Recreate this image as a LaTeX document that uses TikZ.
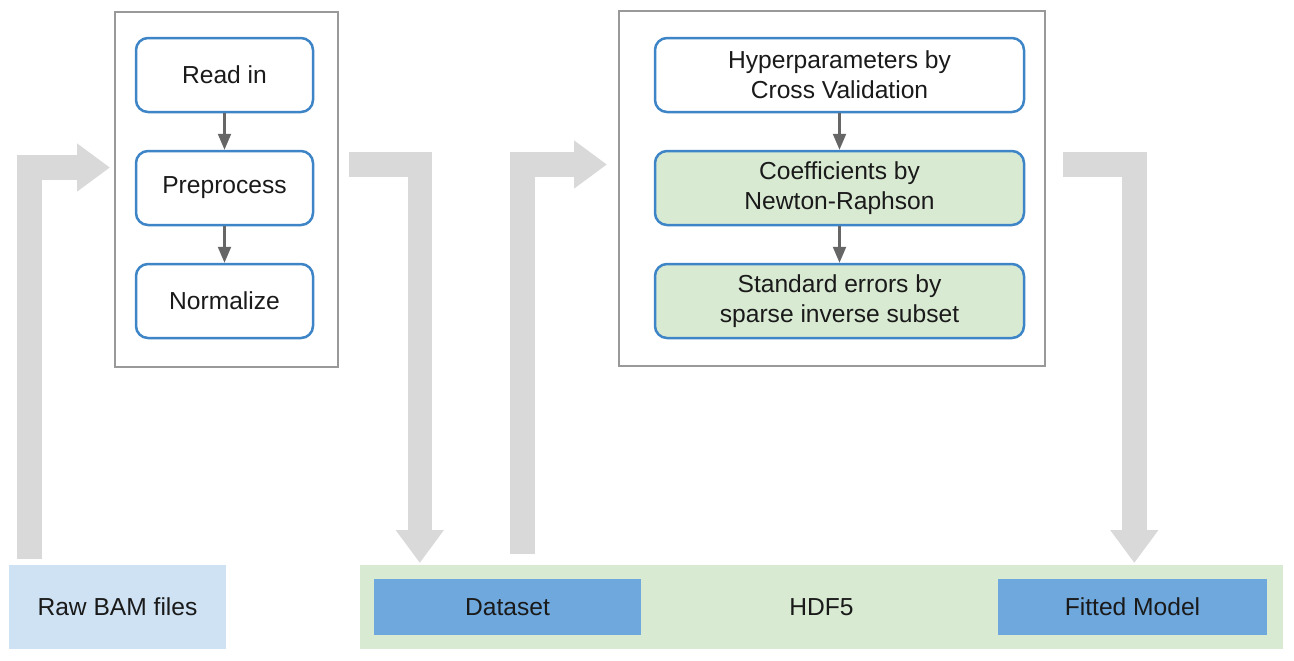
\documentclass[tikz,border=0pt]{standalone}
\usepackage{fontspec}
\setmainfont{Liberation Sans}
\usetikzlibrary{arrows.meta}
\definecolor{boxblue}{HTML}{3D85C6}
\definecolor{framegray}{HTML}{999999}
\definecolor{arrgray}{HTML}{666666}
\definecolor{biggray}{HTML}{D9D9D9}
\definecolor{lightgreen}{HTML}{D9EAD3}
\definecolor{lightblue}{HTML}{CFE2F3}
\definecolor{midblue}{HTML}{6FA8DC}
\definecolor{txt}{HTML}{1A1A1A}
\tikzset{
  every node/.style={font=\fontsize{12.3pt}{15pt}\selectfont, text=txt},
  stepbox/.style={draw=boxblue, line width=1.25pt, rounded corners=6pt, fill=white,
    minimum height=37pt, align=center, inner sep=0pt},
  greenbox/.style={stepbox, fill=lightgreen},
  frame/.style={draw=framegray, line width=1pt},
  flat/.style={draw=none, inner sep=0pt, align=center},
  smallarrow/.style={draw=arrgray, line width=1.1pt, -{Triangle[length=8pt,width=6.5pt]}},
  bigarrow/.style={draw=biggray, line width=12.25pt, line join=miter,
    -{Triangle[length=16.5pt,width=23pt]}},
}
\begin{document}
\begin{tikzpicture}[x=0.5pt,y=-0.5pt]
\useasboundingbox (0,0) rectangle (1294,660);

% frames
\draw[frame] (115,12) rectangle (338,367);
\draw[frame] (619,11) rectangle (1045,366);

% left steps
\node[stepbox, minimum width=88.5pt] (read) at (224.5,75) {Read in};
\node[stepbox, minimum width=88.5pt] (prep) at (224.5,188) {Preprocess};
\node[stepbox, minimum width=88.5pt] (norm) at (224.5,301) {Normalize};
\draw[smallarrow] (read) -- (prep);
\draw[smallarrow] (prep) -- (norm);

% right steps
\node[stepbox, minimum width=184.5pt] (hyper) at (839.5,75) {Hyperparameters by\\Cross Validation};
\node[greenbox, minimum width=184.5pt] (coef) at (839.5,188) {Coefficients by\\Newton-Raphson};
\node[greenbox, minimum width=184.5pt] (stderr) at (839.5,301) {Standard errors by\\sparse inverse subset};
\draw[smallarrow] (hyper) -- (coef);
\draw[smallarrow] (coef) -- (stderr);

% bottom storage
\node[flat, fill=lightblue, minimum width=108.5pt, minimum height=42pt] (raw) at (117.5,607) {Raw BAM files};
\node[flat, fill=lightgreen, minimum width=461.5pt, minimum height=42pt] (hdf) at (821.5,607) {HDF5};
\node[flat, fill=midblue, minimum width=133.5pt, minimum height=28pt] (data) at (507.5,607) {Dataset};
\node[flat, fill=midblue, minimum width=134.5pt, minimum height=28pt] (model) at (1132.5,607) {Fitted Model};

% big flow arrows
\coordinate (a1s) at (29.5,559);
\coordinate (a1e) at (110,167.5);
\coordinate (a2s) at (349,164.5);
\coordinate (a2e) at (419.8,563);
\coordinate (a3s) at (522.5,554);
\coordinate (a3e) at (607,164.5);
\coordinate (a4s) at (1062.5,164.5);
\coordinate (a4e) at (1134.3,563);
\draw[bigarrow] (a1s) |- (a1e);
\draw[bigarrow] (a2s) -| (a2e);
\draw[bigarrow] (a3s) |- (a3e);
\draw[bigarrow] (a4s) -| (a4e);
\end{tikzpicture}
\end{document}
